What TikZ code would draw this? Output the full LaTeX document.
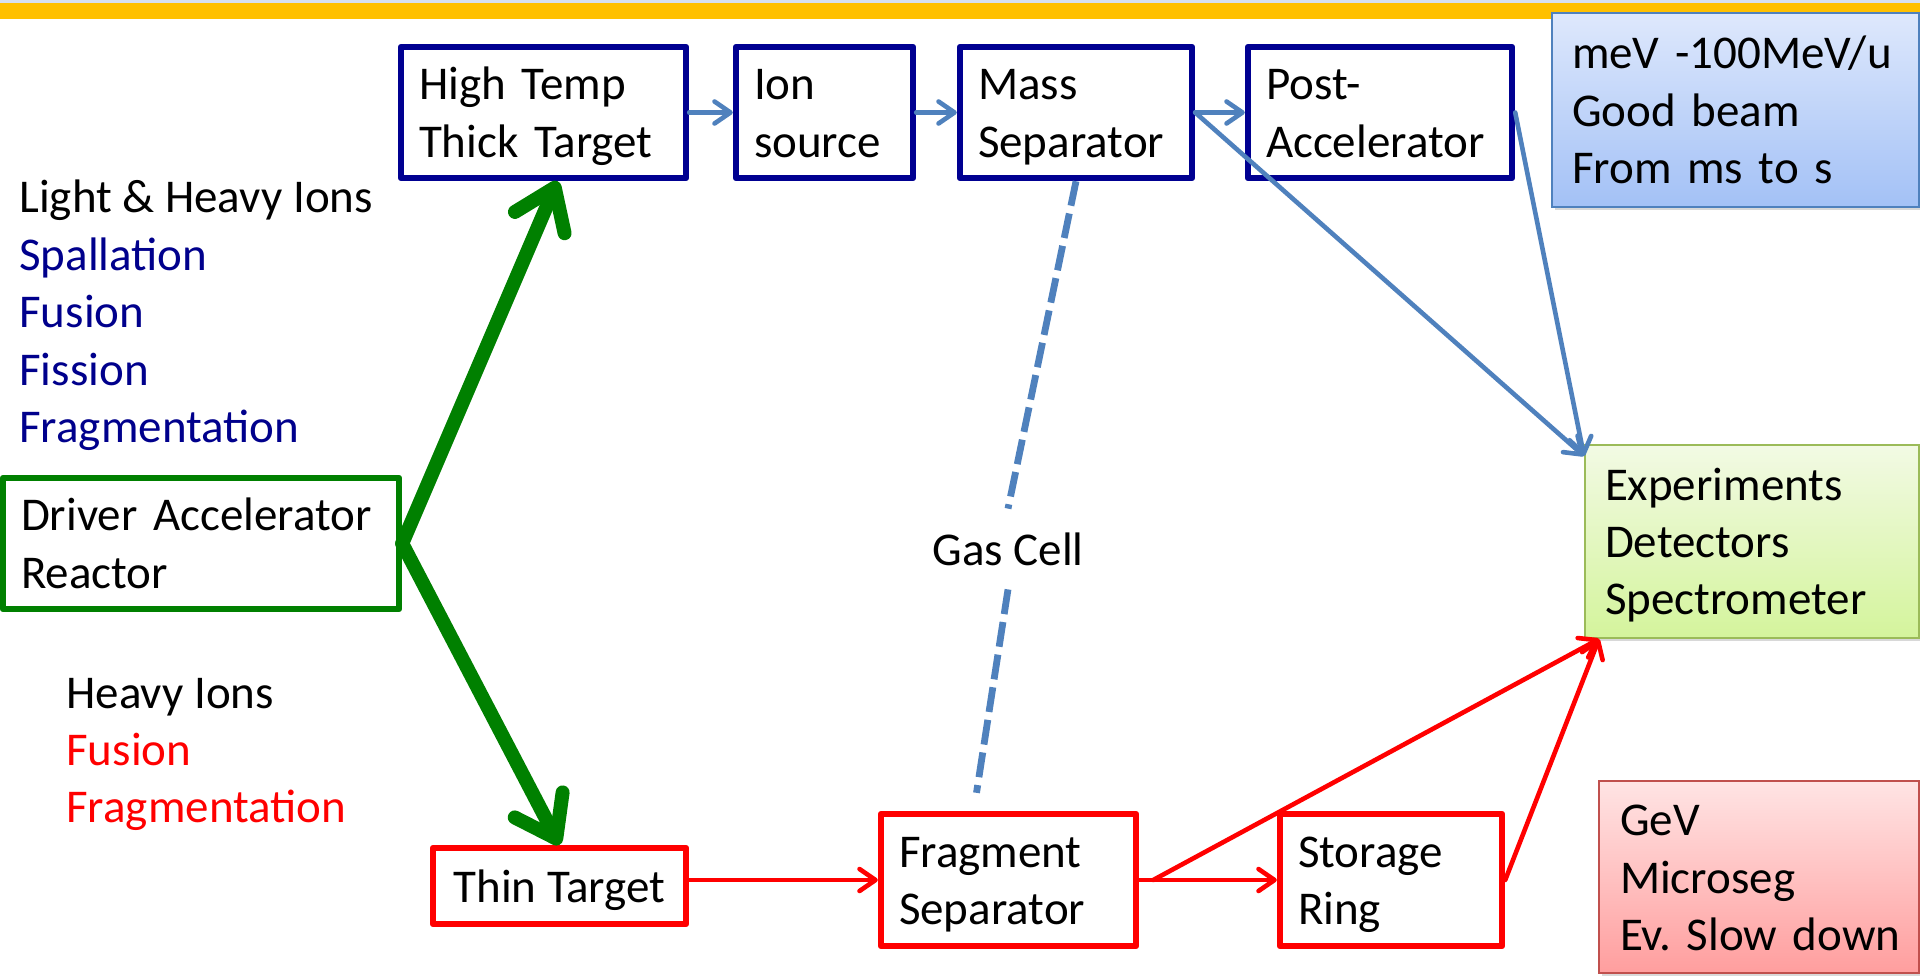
\documentclass[tikz,border=0pt]{standalone}
\usepackage{fontspec}
\setmainfont{Carlito}
\frenchspacing
\usetikzlibrary{arrows.meta,shadows}

\definecolor{navy}{RGB}{0,0,145}
\definecolor{textnavy}{RGB}{0,0,140}
\definecolor{drivegreen}{RGB}{0,128,0}
\definecolor{beamred}{RGB}{255,0,0}
\definecolor{beamblue}{RGB}{79,129,189}
\definecolor{barYellow}{RGB}{255,192,0}
\definecolor{barStrip}{RGB}{214,224,240}
\definecolor{lowTop}{RGB}{222,232,252}
\definecolor{lowBot}{RGB}{163,193,246}
\definecolor{lowEdge}{RGB}{79,129,189}
\definecolor{expTop}{RGB}{242,250,228}
\definecolor{expBot}{RGB}{212,244,156}
\definecolor{expEdge}{RGB}{155,187,89}
\definecolor{hiTop}{RGB}{255,228,228}
\definecolor{hiBot}{RGB}{255,158,158}
\definecolor{hiEdge}{RGB}{192,80,77}

\tikzset{
  txt/.style={font=\fontsize{23.5pt}{28.7pt}\selectfont},
  evenlines/.style={execute at begin node={\rule{0pt}{21pt}},
    execute at end node={\rule[-5pt]{0pt}{5pt}}},
  framebox/.style={txt, evenlines, rectangle, line width=3.2pt, line join=round, fill=white,
    align=left, inner xsep=9pt, inner ysep=0pt},
  isolbox/.style={framebox, draw=navy},
  drivbox/.style={framebox, draw=drivegreen},
  flightbox/.style={framebox, draw=beamred},
  notebox/.style={txt, evenlines, rectangle, line width=1pt, align=left, inner xsep=10pt, inner ysep=0pt,
    drop shadow={shadow xshift=1.5pt, shadow yshift=-1.5pt, opacity=0.3}},
  garrow/.style={draw=drivegreen, line width=7pt, line cap=round, line join=round,
    -{Straight Barb[length=19pt, width=27pt, round]}},
  barrow/.style={draw=beamblue, line width=2.3pt, line cap=round,
    -{Straight Barb[length=8pt, width=11pt, round]}},
  rarrow/.style={draw=beamred, line width=2.3pt, line cap=round,
    -{Straight Barb[length=8pt, width=11pt, round]}},
  gasline/.style={draw=beamblue, line width=3.4pt, dash pattern=on 12.5pt off 4pt},
}

\begin{document}
\begin{tikzpicture}[x=0.5pt, y=-0.5pt]
  \useasboundingbox (0,0) rectangle (1920,975);
  \fill[white] (0,0) rectangle (1920,975);

  % title band
  \fill[barStrip] (0,0) rectangle (1920,3);
  \fill[barYellow] (0,3) rectangle (1920,19);

  % ISOL branch
  \node[isolbox, text width=124.5pt, minimum height=65.5pt] (htt) at (543.5,112.5) {High~Temp\\Thick~Target};
  \node[isolbox, text width=70.5pt, minimum height=65.5pt] (ion) at (824.5,112.5) {Ion\\source};
  \node[isolbox, text width=98pt, minimum height=65.5pt] (ms) at (1076,112.5) {Mass\\Separator};
  \node[isolbox, text width=114pt, minimum height=65.5pt] (pa) at (1380,112.5) {Post-\\Accelerator};

  % driver
  \node[drivbox, text width=180pt, minimum height=65.5pt] (driver) at (201,543.5) {Driver~Accelerator\\Reactor};

  % in-flight branch
  \node[flightbox, minimum width=126.5pt, minimum height=38pt, align=center] (thin) at (559.5,886) {Thin~Target};
  \node[flightbox, text width=109.5pt, minimum height=66pt] (frag) at (1008.5,880) {Fragment\\Separator};
  \node[flightbox, text width=93pt, minimum height=66pt] (sr) at (1391,880) {Storage\\Ring};

  % note boxes
  \node[notebox, draw=lowEdge, top color=lowTop, bottom color=lowBot,
        text width=163.5pt, minimum height=97pt] (low) at (1735.5,110)
        {meV~-100MeV/u\\Good~beam\\From~ms~to~s};
  \node[notebox, draw=expEdge, top color=expTop, bottom color=expBot,
        text width=147pt, minimum height=96.5pt] (exp) at (1752,541.5)
        {Experiments\\Detectors\\Spectrometer};
  \node[notebox, draw=hiEdge, top color=hiTop, bottom color=hiBot, inner xsep=10.5pt,
        text width=139pt, minimum height=96pt] (hi) at (1759,877)
        {GeV\\Microseg\\Ev.~Slow~down};

  % reaction labels
  \node[txt, anchor=west, align=left, inner sep=0pt] (isollist) at (19,315.5)
    {Light~\&~Heavy~Ions\\\textcolor{textnavy}{Spallation}\\\textcolor{textnavy}{Fusion}\\%
     \textcolor{textnavy}{Fission}\\\textcolor{textnavy}{Fragmentation}};
  \node[txt, anchor=west, align=left, inner sep=0pt] (flightlist) at (66,754.5)
    {Heavy~Ions\\\textcolor{beamred}{Fusion}\\\textcolor{beamred}{Fragmentation}};

  \node[txt, inner sep=0pt, minimum height=40pt] (gas) at (1008,549) {Gas~Cell};

  % gas cell link
  \draw[gasline] (ms.south) -- (gas.north);
  \draw[gasline] (gas.south) -- ([shift={(-16pt,9pt)}]frag.north);

  % ISOL beam line
  \draw[barrow] (htt.east) -- (ion.west);
  \draw[barrow] (ion.east) -- (ms.west);
  \draw[barrow] (ms.east) -- (pa.west);
  \draw[barrow] (ms.east) -- ([yshift=-6pt]exp.north west);
  \draw[barrow] (pa.east) -- ([yshift=-6pt]exp.north west);

  % in-flight beam line
  \draw[rarrow] (thin.east |- frag.west) -- (frag.west);
  \draw[rarrow] (frag.east) -- (sr.west);
  \draw[rarrow] ([xshift=7pt]frag.east) -- ([xshift=7.5pt]exp.south west);
  \draw[rarrow] (sr.east) -- ([xshift=7.5pt]exp.south west);

  % driver beams
  \draw[garrow] (driver.east) -- ([xshift=7pt]htt.south);
  \draw[garrow] (driver.east) -- (thin.north);
\end{tikzpicture}
\end{document}
